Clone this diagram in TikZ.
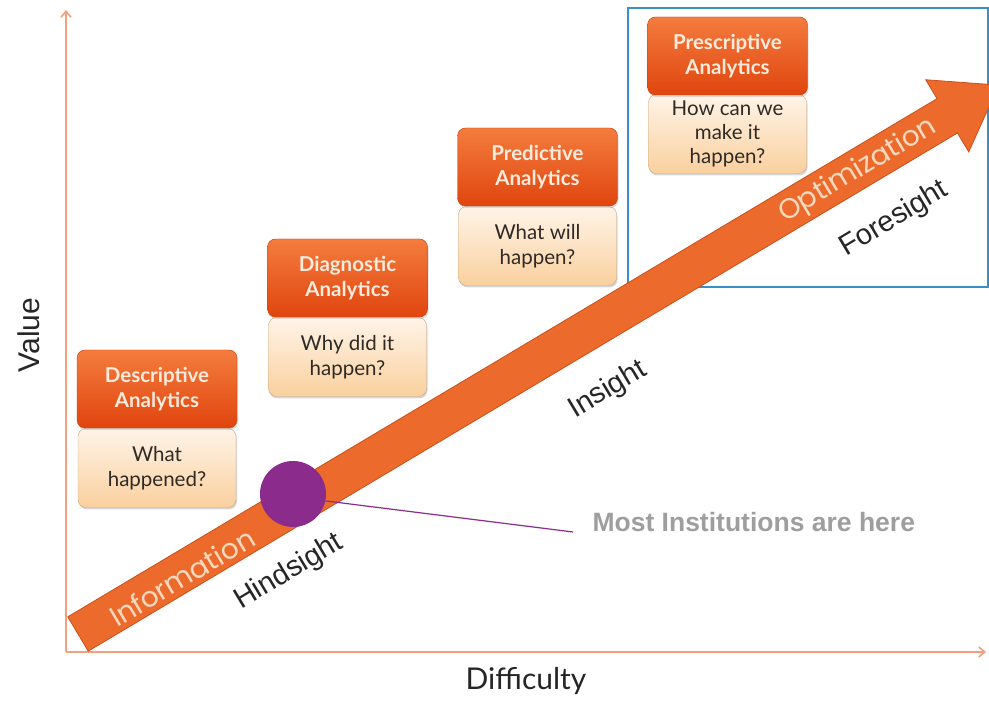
\documentclass[tikz,border=0pt]{standalone}
\usepackage{fontspec}
\setmainfont{Liberation Sans}
\newfontfamily\boxfont{Lato}
\newfontfamily\geofont{Poppins}
\usetikzlibrary{arrows.meta,shadows}
\definecolor{axisc}{HTML}{F4A07E}
\definecolor{arrowc}{HTML}{EC6B2C}
\definecolor{arrowedge}{HTML}{C9501A}
\definecolor{ortop}{HTML}{F47C3E}
\definecolor{orbot}{HTML}{E0450E}
\definecolor{petop}{HTML}{FFF4E8}
\definecolor{pebot}{HTML}{FAD09E}
\definecolor{purplec}{HTML}{8B2C8C}
\definecolor{bluec}{HTML}{3A8FC8}
\definecolor{grayt}{HTML}{9E9E9E}
\definecolor{arrowtext}{HTML}{FBD9BF}
\definecolor{titletext}{HTML}{FDEBDD}
\definecolor{qtext}{HTML}{2F2A26}
\begin{document}
\begin{tikzpicture}[x=1pt,y=1pt,
  titlebox/.style={rounded corners=8pt, minimum width=160pt, minimum height=78pt,
    top color=ortop, bottom color=orbot, draw=orbot!90!black, line width=0.4pt,
    align=center, text=titletext, font=\boxfont\bfseries\fontsize{20.5}{25}\selectfont,
    drop shadow={shadow xshift=1pt, shadow yshift=-2pt, opacity=0.25}},
  qbox/.style={rounded corners=8pt, minimum width=158pt, minimum height=79pt,
    top color=petop, bottom color=pebot, draw=pebot!80!black, line width=0.4pt,
    align=center, text=qtext, font=\boxfont\fontsize{20.5}{25}\selectfont,
    drop shadow={shadow xshift=1pt, shadow yshift=-2pt, opacity=0.3}},
  axis/.style={draw=axisc, line width=1.6pt, -{Straight Barb[length=6pt,width=10pt]}},
  sight/.style={font=\fontsize{29}{32}\selectfont, text=black!85, rotate=31},
  ontext/.style={font=\geofont\fontsize{28}{32}\selectfont, text=arrowtext, rotate=30.8}
]
\useasboundingbox (0,0) rectangle (989,702);
\fill[white] (0,0) rectangle (989,702);

% axes
\coordinate (o) at (66,50);
\coordinate (ytop) at (66,692);
\coordinate (xend) at (986,50);
\draw[axis] (o) -- (ytop);
\draw[axis] (o) -- (xend);
\node[font=\fontsize{30}{32}\selectfont, rotate=90, text=black!85] (value) at (29,367) {Value};
\node[font=\boxfont\fontsize{30}{32}\selectfont, anchor=base, text=black!85] (diff) at (526,12) {Difficulty};

% blue frame
\draw[bluec, line width=2pt] (628,694) rectangle (988,415);

% big arrow
\begin{scope}[shift={(78,68)}, rotate=30.8]
  \fill[arrowc, draw=arrowedge, line width=0.8pt]
    (0,-20) -- (1012,-20) -- (1012,-42) -- (1072,0) -- (1012,42) -- (1012,20) -- (0,20) -- cycle;
\end{scope}
\node[ontext] (info) at (182,125) {Information};
\node[ontext] (optim) at (858,531) {Optimization};

\node[sight] (hind) at (289,130) {Hindsight};
\node[sight] (ins) at (608,312) {Insight};
\node[sight] (fore) at (894,483) {Foresight};

% boxes
\node[qbox] (q1) at (157,234) {What\\happened?};
\node[titlebox] (t1) at (157,313) {Descriptive\\Analytics};
\node[qbox] (q2) at (347.5,345) {Why did it\\happen?};
\node[titlebox] (t2) at (347.5,424) {Diagnostic\\Analytics};
\node[qbox] (q3) at (537.5,456) {What will\\happen?};
\node[titlebox] (t3) at (537.5,535) {Predictive\\Analytics};
\node[qbox, font=\boxfont\fontsize{20.5}{24}\selectfont] (q4) at (727.5,568) {How can we\\make it\\happen?};
\node[titlebox] (t4) at (727.5,646) {Prescriptive\\Analytics};

% marker
\node[circle, fill=purplec, minimum size=66pt, inner sep=0pt] (dot) at (293,208) {};
\coordinate (lend) at (573,170);
\draw[purplec, line width=1.2pt] (dot.-12) -- (lend);
\node[anchor=west, font=\bfseries\fontsize{26.5}{29}\selectfont, text=grayt] (most) at (589,180) {Most Institutions are here};
\end{tikzpicture}
\end{document}
